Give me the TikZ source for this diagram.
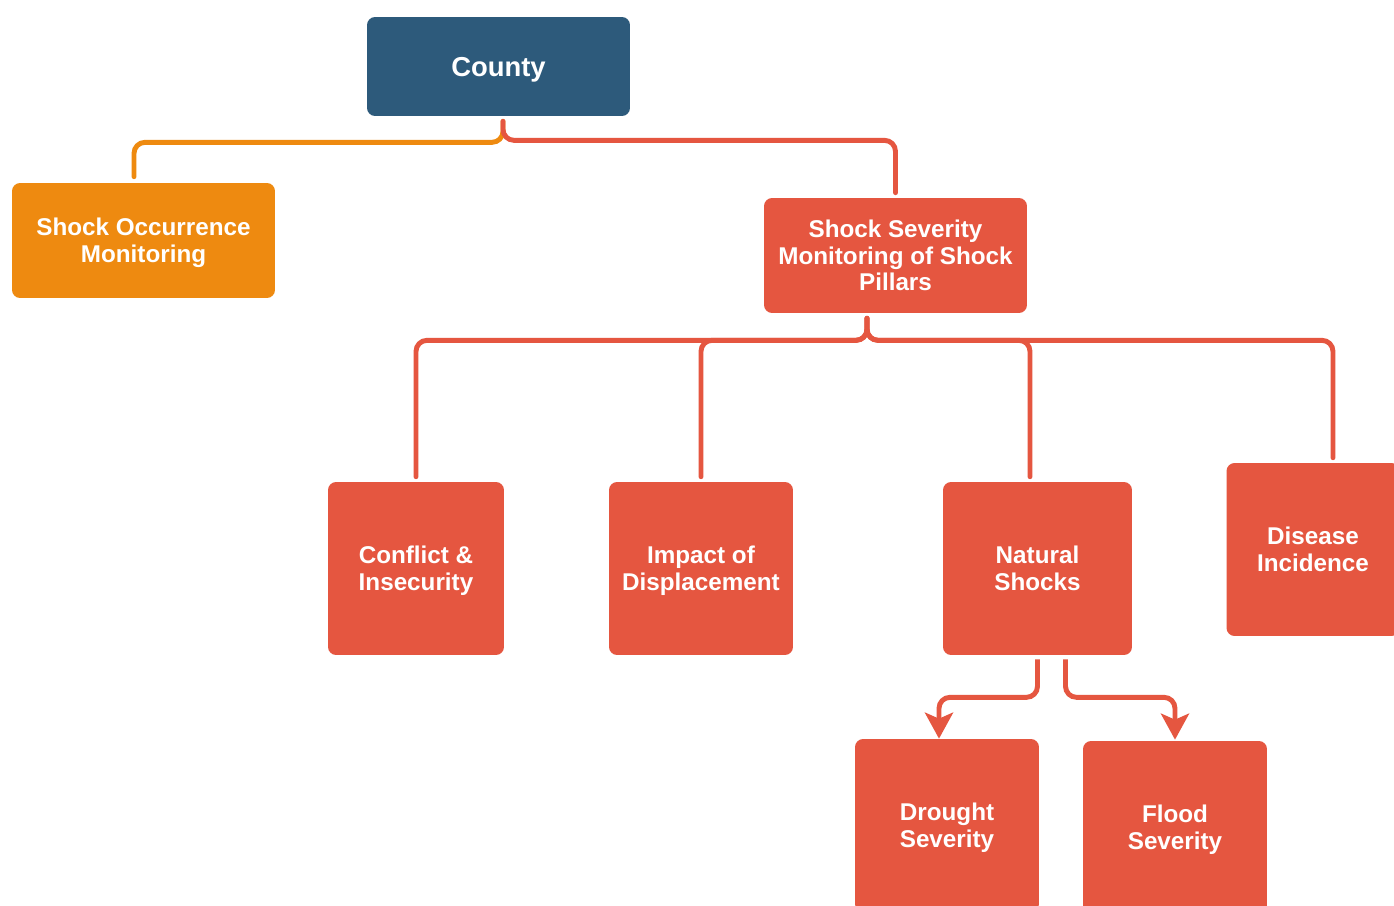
\documentclass[tikz,border=0pt]{standalone}
\usepackage{fontspec}
\setmainfont{Liberation Sans}
\usetikzlibrary{positioning,calc,arrows.meta}
\definecolor{countyblue}{HTML}{2D5A7B}
\definecolor{occorange}{HTML}{EE8A10}
\definecolor{sevred}{HTML}{E55640}

\begin{document}
\begin{tikzpicture}[x=0.02cm, y=-0.02cm,
	box/.style={rounded corners=0.16cm, text=white, align=center, inner sep=0pt, text depth=0pt,
		font=\fontsize{13.8}{15.2}\selectfont\bfseries},
	redbox/.style={box, fill=sevred},
	pillar/.style={redbox, minimum height=3.46cm},
	link/.style={line width=2.8pt, rounded corners=0.22cm, line cap=round},
	tip/.style={-{Stealth[length=0.52cm, width=0.56cm, inset=0.12cm]}, line cap=butt}]
	\clip (0,0) rectangle (1394,906);
	\fill[white] (0,0) rectangle (1394,906);
	\node[box, fill=countyblue, minimum width=5.26cm, minimum height=1.98cm,
		font=\fontsize{15.6}{17}\selectfont\bfseries] (cty) at (498.5,66.5) {County};
	\node[box, fill=occorange, minimum width=5.26cm, minimum height=2.3cm] (occ) at (143.5,240.5)
		{Shock Occurrence\\Monitoring};
	\node[redbox, minimum width=5.26cm, minimum height=2.3cm] (sev) at (895.5,255.5)
		{Shock Severity\\Monitoring of Shock\\Pillars};
	\node[pillar, minimum width=3.52cm] (cfl) at (416,568.5) {Conflict \&\\Insecurity};
	\node[pillar, minimum width=3.68cm] (dsp) at (701,568.5) {Impact of\\Displacement};
	\node[pillar, minimum width=3.78cm] (nat) at (1037.5,568.5) {Natural\\Shocks};
	\node[pillar, minimum width=3.46cm] (dis) at (1313,549.5) {Disease\\Incidence};
	\node[pillar, minimum width=3.68cm] (drt) at (947,825.5) {Drought\\Severity};
	\node[pillar, minimum width=3.68cm] (fld) at (1175,827.5) {Flood\\Severity};

	\coordinate (ctyhub) at ($(cty.south)+(4.5,5)$);
	\draw[link, occorange] (ctyhub) -- ++(0,21) -| ($(occ.north)+(-9.5,-6)$);
	\draw[link, sevred] (ctyhub) -- ++(0,19) -| ($(sev.north)+(0,-5)$);

	\coordinate (sevhub) at ($(sev.south)+(-28.5,5)$);
	\draw[link, sevred] (sevhub) -- ++(0,22) -| ($(cfl.north)+(0,-5)$);
	\draw[link, sevred] (sevhub) -- ++(0,22) -| ($(dsp.north)+(0,-5)$);
	\draw[link, sevred] (sevhub) -- ++(0,22) -| ($(nat.north)+(-7.5,-5)$);
	\draw[link, sevred] (sevhub) -- ++(0,22) -| ($(dis.north)+(20,-5)$);

	\draw[link, tip, sevred] ($(nat.south)+(0,4)$) -- ++(0,38) -| ($(drt.north)+(-8,0)$);
	\draw[link, tip, sevred] ($(nat.south)+(28,4)$) -- ++(0,38) -| ($(fld.north)+(0,-1)$);
\end{tikzpicture}
\end{document}
